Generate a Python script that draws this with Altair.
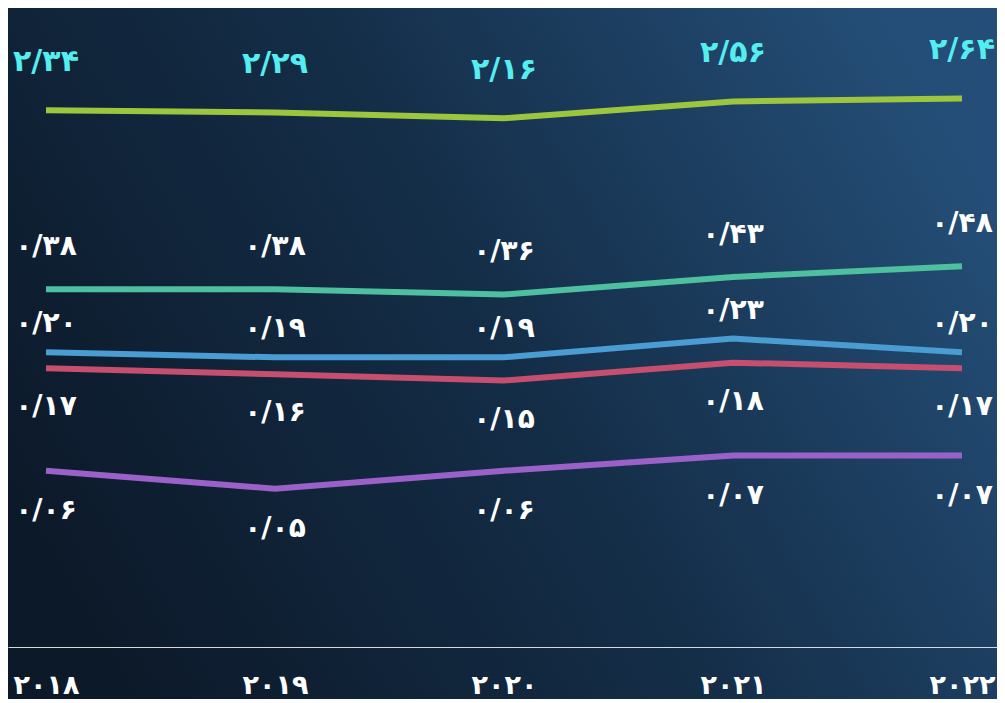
import altair as alt
import pandas as pd

years = [2018, 2019, 2020, 2021, 2022]
series_names = ["سری ۱", "سری ۲", "سری ۳", "سری ۴", "سری ۵"]
s1 = [2.34, 2.29, 2.16, 2.56, 2.64]
s2 = [0.38, 0.38, 0.36, 0.43, 0.48]
s3 = [0.20, 0.19, 0.19, 0.23, 0.20]
s4 = [0.17, 0.16, 0.15, 0.18, 0.17]
s5 = [0.06, 0.05, 0.06, 0.07, 0.07]
all_values = [s1, s2, s3, s4, s5]

line_colors = ["#9DC63F", "#4EBF9F", "#4A9CD2", "#C64F6F", "#9A62C9"]
label_colors = ["#55EEF0", "#FFFFFF", "#FFFFFF", "#FFFFFF", "#FFFFFF"]
label_dy = [-48, -42, -28, 39, 40]
label_size = [30, 28, 28, 28, 28]

FA = str.maketrans("0123456789.", "۰۱۲۳۴۵۶۷۸۹/")


def fa_num(v):
    return f"{v:.2f}".translate(FA)


def fa_year(y):
    return str(y).translate(FA)


rows = []
for name, vals in zip(series_names, all_values):
    for yr, v in zip(years, vals):
        rows.append({"series": name, "year": yr, "value": v, "label": fa_num(v)})
df = pd.DataFrame(rows)

W, H, PB = 989, 639, 52
FONT = "DejaVu Sans"

label_expr = ""
for yr in years:
    label_expr += f"datum.value == {yr} ? '{fa_year(yr)}' : "
label_expr += "''"

x_enc = alt.X(
    "year:Q",
    scale=alt.Scale(domain=[2018 - 38 / 229, 2018 + 951 / 229], nice=False, zero=False),
    axis=alt.Axis(
        values=years,
        labelExpr=label_expr,
        title=None,
        grid=False,
        ticks=False,
        domainColor="#D8D8D8",
        domainWidth=1,
        labelColor="#FFFFFF",
        labelFont=FONT,
        labelFontWeight="bold",
        labelFontSize=27,
        labelPadding=38,
        labelBaseline="middle",
        labelFlush=False,
        labelOverlap=False,
        zindex=1,
    ),
)
y_enc = alt.Y(
    "value:Q",
    scale=alt.Scale(type="log", domain=[0.01, 6.62], nice=False),
    axis=None,
)

bg = alt.Chart(df).mark_rect(
    color=alt.LinearGradient(
        gradient="linear",
        stops=[
            alt.GradientStop(color="#0C1929", offset=0),
            alt.GradientStop(color="#142D47", offset=0.5),
            alt.GradientStop(color="#244E77", offset=1),
        ],
        x1=0, y1=0.7, x2=1, y2=0.3,
    )
).encode(
    x=alt.value(0), x2=alt.value(W), y=alt.value(0), y2=alt.value(H + PB)
)

lines = alt.Chart(df).mark_line(strokeWidth=6, strokeCap="butt", strokeJoin="miter").encode(
    x=x_enc,
    y=y_enc,
    color=alt.Color(
        "series:N",
        scale=alt.Scale(domain=series_names, range=line_colors),
        legend=None,
    ),
    detail="series:N",
)

texts = []
for i, name in enumerate(series_names):
    t = alt.Chart(df).transform_filter(
        alt.datum.series == name
    ).mark_text(
        dy=label_dy[i],
        font=FONT,
        fontWeight="bold",
        fontSize=label_size[i],
        color=label_colors[i],
        align="center",
        baseline="middle",
    ).encode(x="year:Q", y="value:Q", text="label:N")
    texts.append(t)

chart = alt.layer(bg, lines, *texts).properties(
    width=W,
    height=H,
    padding={"left": 0, "top": 0, "right": 0, "bottom": PB},
    autosize=alt.AutoSizeParams(type="none"),
    background="#0D1B2C",
).configure_view(stroke=None)

chart.save("out.html", embed_options={"renderer": "svg", "actions": False})
